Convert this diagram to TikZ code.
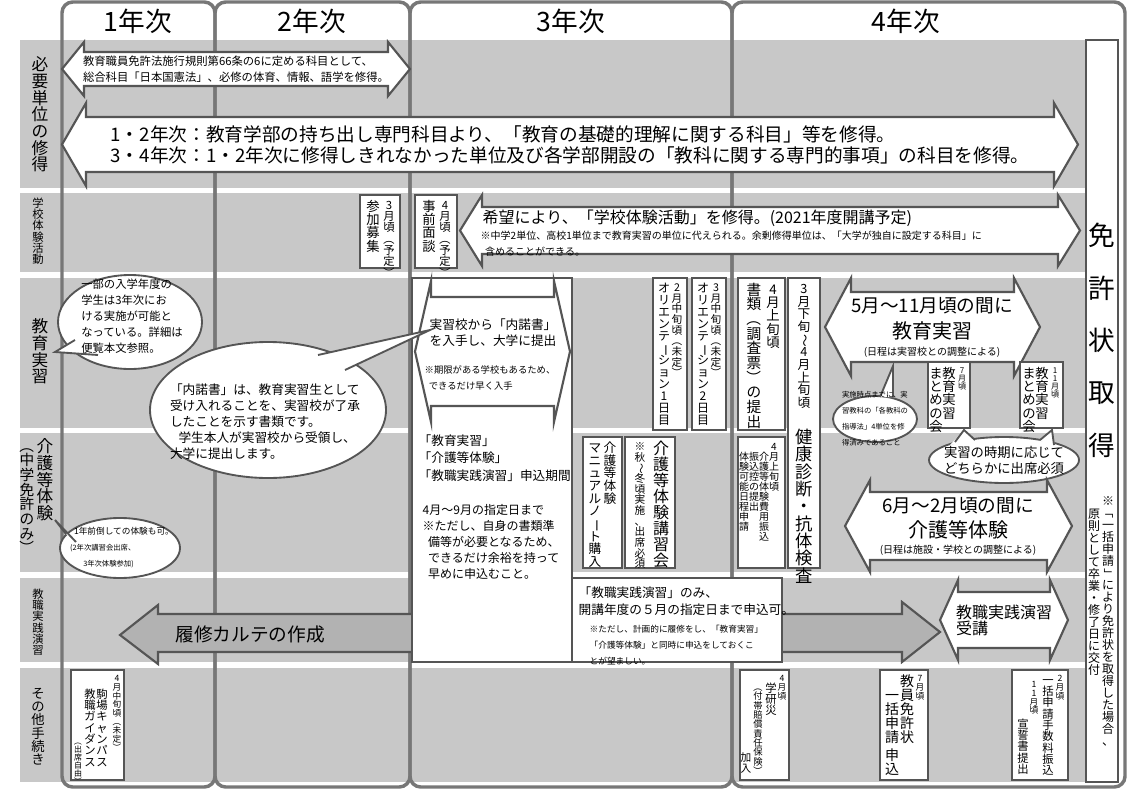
\documentclass[tikz,border=0pt]{standalone}
\usepackage{fontspec}
\setmainfont{Noto Sans CJK JP}
\usetikzlibrary{shapes.geometric}
\ExplSyntaxOn
\NewDocumentCommand\vt{O{1}m}{\seq_set_split:Nnn\l_tmpa_seq{}{#2}\vbox{\offinterlineskip\seq_map_inline:Nn\l_tmpa_seq{\hbox~to~1em{\hss\raisebox{0pt}[#1\dimexpr .88em\relax][.12em]{##1}\hss}}}}
\ExplSyntaxOff
\newcommand\R[1]{\rotatebox[origin=c]{-90}{#1}}
\newcommand\fs[1]{\fontsize{#1}{#1}\selectfont}
\definecolor{band}{HTML}{C8C8C8}
\definecolor{ln}{HTML}{555555}
\tikzset{
 arr/.style={fill=white,draw=ln,line width=1.6pt,line join=miter},
 box/.style={fill=white,draw=ln,line width=1.8pt},
 vtx/.style={inner sep=0pt,anchor=north},
 yr/.style={draw=ln!80,line width=2.6pt,rounded corners=8pt},
}
\newcommand\dbl[6]{\draw[arr] (#1,{(#2+#4)/2}) -- ({#1+#5},#2) -- ({#1+#5},{#2+#6}) -- ({#3-#5},{#2+#6}) -- ({#3-#5},#2) -- (#3,{(#2+#4)/2}) -- ({#3-#5},#4) -- ({#3-#5},{#4-#6}) -- ({#1+#5},{#4-#6}) -- ({#1+#5},#4) -- cycle;}
\newcommand\bub[7]{% cx cy rx ry  p1 tip p2
 \draw[fill=white,draw=ln,line width=1.4pt] (#1,#2) ellipse [x radius=#3,y radius=#4];
 \fill[white] #5 -- #6 -- #7 -- cycle;
 \draw[ln,line width=1.4pt] #5 -- #6 -- #7;}
\begin{document}
\begin{tikzpicture}[x=0.75pt,y=-0.75pt]
\useasboundingbox (0,0) rectangle (1131,792);
\fill[white] (0,0) rectangle (1131,792);
% bands
\foreach \a/\b in {40/188,193/272,278/428,433/572,578/662,668/782}
  \fill[band] (20,\a) rectangle (1088,\b);
% year columns
\draw[yr] (62,2) rectangle (215,787);
\draw[yr] (215,2) rectangle (410,787);
\draw[yr] (410,2) rectangle (732,787);
\draw[yr] (732,2) rectangle (1125,787);
\node (y1) at (138,21) {\fs{20}1年次};
\node (y2) at (312,21) {\fs{20}2年次};
\node (y3) at (571,21) {\fs{20}3年次};
\node (y4) at (906,21) {\fs{20}4年次};
% right column
\draw[box,line width=1.4pt] (1086,40) rectangle (1118,782);
\node[vtx] (men) at (1102,196) {\fs{20}\vt[2.1]{免許状取得}};
\node[vtx] (n1) at (1108,495) {\fs{9}\vt{※{\R{「}}一括申請{\R{」}}により免許状を取得した場合、}};
\node[vtx] (n2) at (1094,508) {\fs{9}\vt{原則として卒業・修了日に交付}};
% row labels
\node[vtx] (l1) at (40,56) {\fs{12.5}\vt{必要単位の修得}};
\node[vtx] (l2) at (38,197) {\fs{8.5}\vt{学校体験活動}};
\node[vtx] (l3) at (40,318) {\fs{12.5}\vt{教育実習}};
\node[vtx] (l4a) at (45,438) {\fs{12.5}\vt{介護等体験}};
\node[vtx] (l4b) at (27,438) {\fs{11}\vt{{\R{（}}中学免許のみ{\R{）}}}};
\node[vtx] (l5) at (38,588) {\fs{8.5}\vt{教職実践演習}};
\node[vtx] (l6) at (38,686) {\fs{10}\vt{その他手続き}};
% row1
\dbl{62}{42}{410}{96}{22}{10}
\node[align=left] (r1a) at (236,69) {\fs{8.5}教育職員免許法施行規則第66条の6に定める科目として、\\\fs{8.5}総合科目「日本国憲法」、必修の体育、情報、語学を修得。};
\dbl{62}{103}{1078}{186}{24}{14}
\node[align=left] (r1b) at (570,145) {\fs{14}1・2年次：教育学部の持ち出し専門科目より、「教育の基礎的理解に関する科目」等を修得。\\[2pt]\fs{14}3・4年次：1・2年次に修得しきれなかった単位及び各学部開設の「教科に関する専門的事項」の科目を修得。};
% row2
\draw[box] (360,195) rectangle (400,268);
\node[vtx] (b1a) at (389,199) {\fs{8.5}\vt{3月頃{\R{（}}予定{\R{）}}}};
\node[vtx] (b1b) at (373,199) {\fs{10}\vt{参加募集}};
\draw[box] (415,195) rectangle (457,268);
\node[vtx] (b2a) at (445,199) {\fs{8.5}\vt{4月頃{\R{（}}予定{\R{）}}}};
\node[vtx] (b2b) at (429,199) {\fs{10}\vt{事前面談}};
\dbl{460}{195}{1080}{266}{22}{12}
\node[anchor=west] (r2a) at (478,218) {\fs{12}希望により、「学校体験活動」を修得。(2021年度開講予定)};
\node[anchor=west,align=left] (r2b) at (476,244) {\fs{7.5}※中学2単位、高校1単位まで教育実習の単位に代えられる。余剰修得単位は、「大学が独自に設定する科目」に\\\fs{7.5}\ \ 含めることができる。};
% row5 gray arrow (behind)
\draw[fill=gray!60,draw=ln,line width=1.6pt] (120,635) -- (158,605) -- (158,614) -- (902,614) -- (902,602) -- (940,632) -- (902,662) -- (902,652) -- (158,652) -- (158,664) -- cycle;
\node (g1) at (250,634) {\fs{14}履修カルテの作成};
% row3 white box
\draw[box] (412,278) rectangle (572,662);
\dbl{415}{281}{570}{422}{16}{16}
\node[align=left] (r3a) at (493,333) {\fs{9.5}実習校から「内諾書」\\\fs{9.5}を入手し、大学に提出};
\node[align=left] (r3b) at (490,378) {\fs{7}※期限がある学校もあるため、\\\fs{7}\ \ できるだけ早く入手};
\node[align=left,anchor=north west] (r3c) at (414,430) {\fs{9.5}「教育実習」\\[1pt]\fs{9.5}「介護等体験」\\[1pt]\fs{9.5}「教職実践演習」申込期間};
\node[align=left,anchor=north west] (r3d) at (418,500) {\fs{9}4月～9月の指定日まで\\\fs{9}※ただし、自身の書類準\\\fs{9}\ \ 備等が必要となるため、\\\fs{9}\ \ できるだけ余裕を持って\\\fs{9}\ \ 早めに申込むこと。};
% bubbles
\bub{130}{322}{72}{47}{(75,340)}{(55,352)}{(98,355)}
\node[align=left] (bu1) at (132,316) {\fs{8.5}一部の入学年度の\\\fs{8.5}学生は3年次にお\\\fs{8.5}ける実施が可能と\\\fs{8.5}なっている。詳細は\\\fs{8.5}便覧本文参照。};
\bub{268}{410}{118}{68}{(318,355)}{(430,330)}{(345,370)}
\node[align=left] (bu2) at (265,422) {\fs{9.5}「内諾書」は、教育実習生として\\\fs{9.5}受け入れることを、実習校が了承\\\fs{9.5}したことを示す書類です。\\\fs{9.5}\ \ \ 学生本人が実習校から受領し、\\\fs{9.5}大学に提出します。};
\bub{120}{548}{60}{30}{(66,534)}{(55,520)}{(76,542)}
\node[align=left] (bu3) at (122,548) {\fs{6.5}\ \ 1年前倒しての体験も可。\\\fs{5.5}(2年次講習会出席、\\\fs{5.5}\ \ \ \ \ \ \ \ 3年次体験参加)};
% orientation boxes
\draw[box] (653,278) rectangle (687,430);
\node[vtx] (o1a) at (677,282) {\fs{8}\vt{2月中旬頃{\R{（}}未定{\R{）}}}};
\node[vtx] (o1b) at (664,282) {\fs{9}\vt{オリエンテ{\R{ー}}ション1日目}};
\draw[box] (692,278) rectangle (726,430);
\node[vtx] (o2a) at (716,282) {\fs{8}\vt{3月中旬頃{\R{（}}未定{\R{）}}}};
\node[vtx] (o2b) at (703,282) {\fs{9}\vt{オリエンテ{\R{ー}}ション2日目}};
\draw[box] (738,278) rectangle (785,430);
\node[vtx] (s1a) at (773,282) {\fs{10}\vt{4月上旬頃}};
\node[vtx] (s1b) at (754,282) {\fs{11}\vt{書類{\R{（}}調査票{\R{）}}の提出}};
\draw[box] (788,278) rectangle (820,568);
\node[vtx] (k1) at (804,282) {\fs{9.5}\vt{3月下旬{\R{～}}4月上旬頃}};
\node[vtx] (k2) at (804,428) {\fs{13}\vt{健康診断・抗体検査}};
% 5-11 arrow
\dbl{825}{278}{1040}{376}{26}{14}
\node (e1) at (932,306) {\fs{14}5月～11月頃の間に};
\node (e2) at (932,331) {\fs{15}教育実習};
\node (e3) at (932,352) {\fs{7.5}(日程は実習校との調整による)};
\bub{875}{419}{42}{23}{(880,397)}{(893,366)}{(893,397)}
\node[align=left] (bu4) at (875,419) {\fs{5.5}実施時点までに、実\\\fs{5.5}習教科の「各教科の\\\fs{5.5}指導法」4単位を修\\\fs{5.5}得済みであること};
\draw[box] (928,362) rectangle (970,428);
\node[vtx] (m1a) at (962,366) {\fs{6}\vt{7月頃}};
\node[vtx] (m1b) at (949,366) {\fs{10}\vt{教育実習}};
\node[vtx] (m1c) at (936,366) {\fs{10}\vt{まとめの会}};
\draw[box] (1020,362) rectangle (1063,428);
\node[vtx] (m2a) at (1055,366) {\fs{6}\vt{11月頃}};
\node[vtx] (m2b) at (1042,366) {\fs{10}\vt{教育実習}};
\node[vtx] (m2c) at (1029,366) {\fs{10}\vt{まとめの会}};
% row4
\draw[box] (583,437) rectangle (622,568);
\node[vtx] (c1a) at (610,441) {\fs{9.5}\vt{介護等体験}};
\node[vtx] (c1b) at (595,441) {\fs{9.5}\vt{マニュアルノ{\R{ー}}ト購入}};
\draw[box] (625,437) rectangle (675,568);
\node[vtx] (c2a) at (661,440) {\fs{12}\vt{介護等体験講習会}};
\node[vtx] (c2b) at (640,441) {\fs{8}\vt{※秋{\R{～}}冬頃実施、出席必須}};
\draw[box] (738,437) rectangle (785,568);
\node[vtx] (d1a) at (774,441) {\fs{7.5}\vt{4月上旬頃}};
\node[vtx] (d1b) at (764,451) {\fs{7.5}\vt{介護等体験費用振込}};
\node[vtx] (d1c) at (754,451) {\fs{7.5}\vt{振込控の提出}};
\node[vtx] (d1d) at (744,451) {\fs{7.5}\vt{体験可能日程申請}};
\draw[fill=white,draw=ln,line width=1.4pt] (1004,460) ellipse [x radius=75,y radius=23];
\fill[white] (950,445) -- (964,430) -- (975,441) -- cycle;
\draw[ln,line width=1.4pt] (955,442) -- (964,430) -- (975,440);
\fill[white] (1040,441) -- (1052,430) -- (1055,446) -- cycle;
\draw[ln,line width=1.4pt] (1040,440) -- (1052,430) -- (1054,445);
\node[align=left] (bu5) at (1004,460) {\fs{10}実習の時期に応じて\\\fs{10}どちらかに出席必須};
\dbl{845}{480}{1072}{572}{25}{12}
\node (f1) at (958,506) {\fs{14}6月～2月頃の間に};
\node (f2) at (958,530) {\fs{15}介護等体験};
\node (f3) at (958,550) {\fs{7.5}(日程は施設・学校との調整による)};
% row5
\draw[box] (572,578) rectangle (782,662);
\node[align=left,anchor=north west] (h1) at (574,582) {\fs{9.5}「教職実践演習」のみ、\\[1pt]\fs{9.5}開講年度の５月の指定日まで申込可。};
\node[align=left,anchor=north west] (h2) at (585,620) {\fs{6.5}※ただし、計画的に履修をし、「教育実習」\\\fs{6.5}「介護等体験」と同時に申込をしておくこ\\\fs{6.5}とが望ましい。};
\dbl{940}{580}{1068}{660}{18}{12}
\node[align=left] (j1) at (1004,620) {\fs{12}教職実践演習\\\fs{12}受講};
% row6
\draw[box] (71,670) rectangle (124,780);
\node[vtx] (p1a) at (117,674) {\fs{6.5}\vt{4月中旬頃{\R{（}}未定{\R{）}}}};
\node[vtx] (p1b) at (102,688) {\fs{8.5}\vt{駒場キャンパス}};
\node[vtx] (p1c) at (90,688) {\fs{8.5}\vt{教職ガイダンス}};
\node[vtx] (p1d) at (78,737) {\fs{6}\vt{{\R{（}}出席自由{\R{）}}}};
\draw[box] (740,670) rectangle (789,780);
\node[vtx] (q1a) at (782,674) {\fs{6.5}\vt{4月頃}};
\node[vtx] (q1b) at (771,682) {\fs{8.5}\vt{学研災}};
\node[vtx] (q1c) at (758,682) {\fs{7}\vt{{\R{（}}付帯賠償責任保険{\R{）}}}};
\node[vtx] (q1d) at (746,752) {\fs{8}\vt{加入}};
\draw[box] (880,670) rectangle (928,780);
\node[vtx] (t1a) at (920,674) {\fs{6.5}\vt{7月頃}};
\node[vtx] (t1b) at (907,674) {\fs{10.5}\vt{教員免許状}};
\node[vtx] (t1c) at (892,688) {\fs{10.5}\vt{一括申請}};
\node[vtx] (t1d) at (892,748) {\fs{10.5}\vt{申込}};
\draw[box] (1012,670) rectangle (1068,780);
\node[vtx] (u1a) at (1060,674) {\fs{6.5}\vt{2月頃}};
\node[vtx] (u1b) at (1048,674) {\fs{8.5}\vt{一括申請手数料振込}};
\node[vtx] (u1c) at (1034,680) {\fs{6.5}\vt{11月頃}};
\node[vtx] (u1d) at (1023,718) {\fs{8.5}\vt{宣誓書提出}};
\end{tikzpicture}
\end{document}
